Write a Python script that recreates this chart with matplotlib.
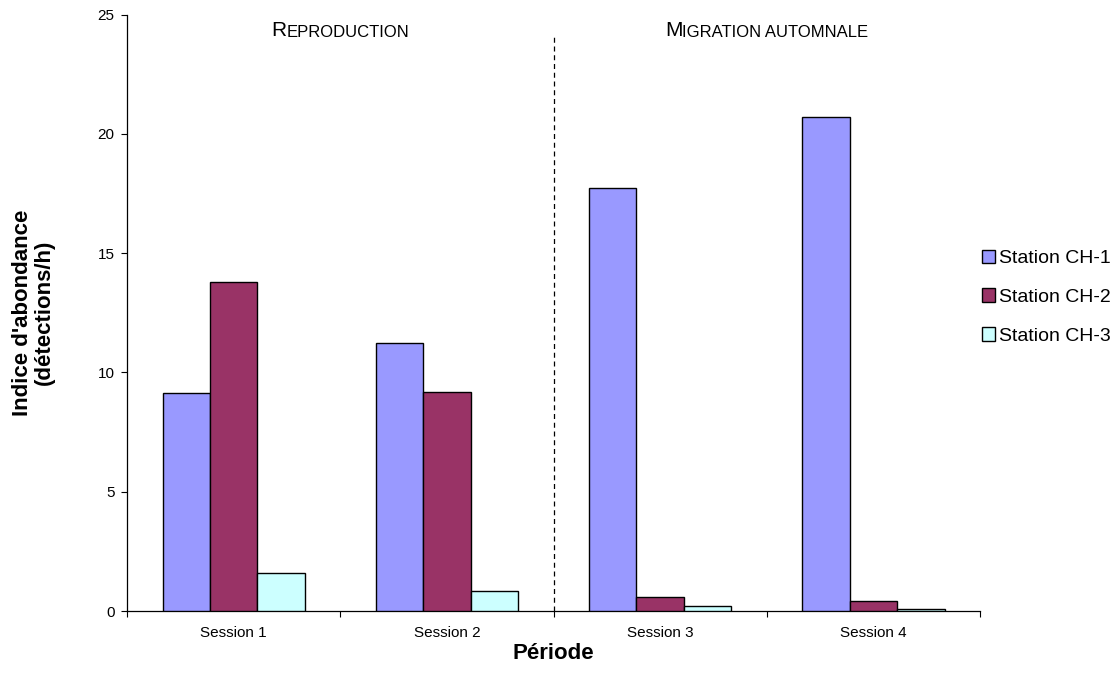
import matplotlib
matplotlib.use("Agg")
import matplotlib.pyplot as plt
import numpy as np
from matplotlib import font_manager as fm

sessions = ["Session 1", "Session 2", "Session 3", "Session 4"]
stations = ["Station CH-1", "Station CH-2", "Station CH-3"]
ch1 = [9.15, 11.25, 17.75, 20.7]
ch2 = [13.8, 9.2, 0.57, 0.42]
ch3 = [1.6, 0.82, 0.22, 0.08]
colors = ["#9999FF", "#993366", "#CCFFFF"]
yticks = [0, 5, 10, 15, 20, 25]

names = {f.name for f in fm.fontManager.ttflist}
base = "Liberation Sans" if "Liberation Sans" in names else "DejaVu Sans"
plt.rcParams['font.family'] = [base, 'DejaVu Sans']

fig = plt.figure(figsize=(11.17, 6.82), dpi=100)
ax = fig.add_axes([0.1137, 0.1041, 0.8774 - 0.1137, 0.9787 - 0.1041])

x = np.arange(len(sessions))
w = 2 / 9
for i, (vals, lab, c) in enumerate(zip([ch1, ch2, ch3], stations, colors)):
    ax.bar(x + (i - 1) * w, vals, w, color=c, edgecolor="black", linewidth=1.0, label=lab, zorder=3)

ax.set_xlim(-0.5, len(sessions) - 0.5)
ax.set_ylim(0, 25)
ax.set_yticks(yticks)
ax.tick_params(axis='y', labelsize=11, direction='out', length=4, width=0.8, pad=5)
ax.set_xticks(x)
ax.set_xticklabels(sessions, fontsize=11)
ax.tick_params(axis='x', which='major', length=0, pad=11)
ax.set_xticks(np.arange(-0.5, len(sessions)), minor=True)
ax.tick_params(axis='x', which='minor', length=4, width=0.8, direction='out')
for s in ["top", "right"]:
    ax.spines[s].set_visible(False)
ax.spines["left"].set_linewidth(0.9)
ax.spines["bottom"].set_linewidth(0.9)

ax.set_xlabel("Période", fontsize=16, fontweight="bold", labelpad=2)
ax.set_ylabel("Indice d'abondance\n(détections/h)", fontsize=16, fontweight="bold", labelpad=31,
              linespacing=1.05)

ax.plot([1.5, 1.5], [0, 24.1], linestyle=(0, (4, 3)), color="black", linewidth=0.9, zorder=4)

leg = ax.legend(loc="center left", bbox_to_anchor=(1.002, 0.526), frameon=False, fontsize=14,
                handlelength=0.7, handleheight=0.7, handletextpad=0.2, labelspacing=1.08,
                borderaxespad=0.0, borderpad=0.0)

tfam = [base, 'DejaVu Sans']
def smallcaps(xc, y, first, rest):
    t1 = ax.text(xc, y, first, fontsize=15, family=tfam, ha='left', va='baseline',
                 transform=ax.transData)
    t2 = ax.annotate(rest, xy=(1, 0), xycoords=t1, fontsize=12, family=tfam,
                     ha='left', va='bottom')
    return t1, t2

fig.canvas.draw()
def place(center, y, first, rest):
    t1, t2 = smallcaps(center, y, first, rest)
    fig.canvas.draw()
    r = fig.canvas.get_renderer()
    b1 = t1.get_window_extent(r)
    b2 = t2.get_window_extent(r)
    total = b2.x1 - b1.x0
    cx_pix = ax.transData.transform((center, y))[0]
    new_x0 = cx_pix - total / 2
    xd = ax.transData.inverted().transform((new_x0, 0))[0]
    t1.set_x(xd)

place(0.5, 24.1, "R", "EPRODUCTION")
place(2.5, 24.1, "M", "IGRATION AUTOMNALE")

fig.savefig("out.png", dpi=100)
